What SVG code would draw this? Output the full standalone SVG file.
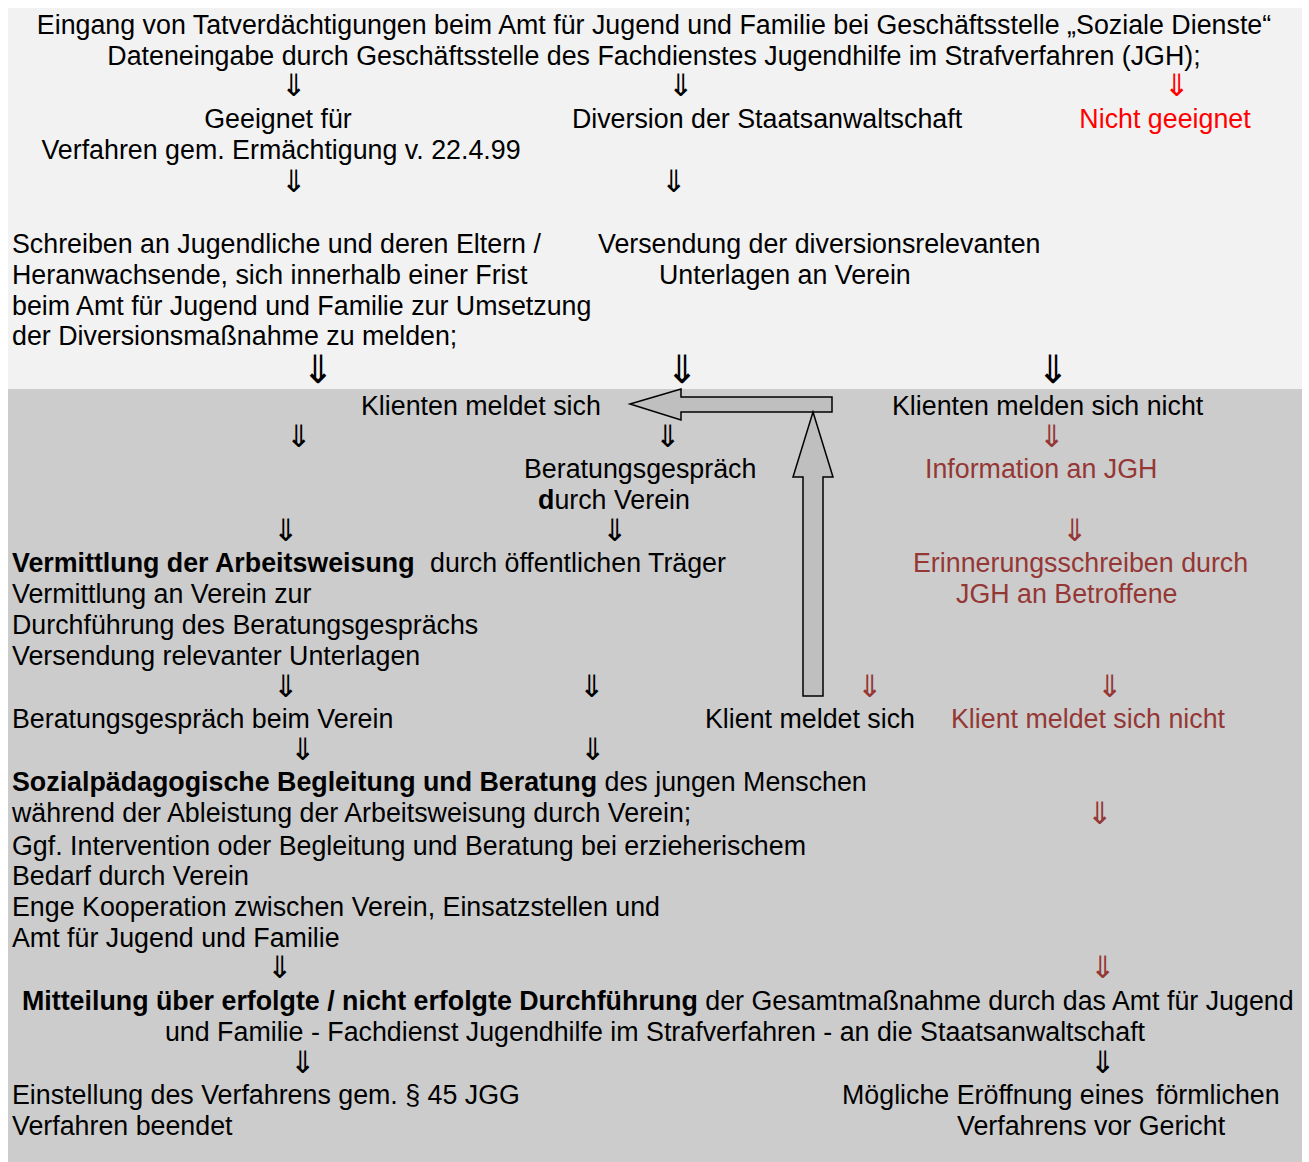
<svg xmlns="http://www.w3.org/2000/svg" width="1309" height="1162" viewBox="0 0 1309 1162">
<style>
text{font-family:"Liberation Sans",Arial,"DejaVu Sans",sans-serif;font-size:26.8px;fill:#000}
.b{font-weight:bold}
.r{fill:#ff0000}
.dr{fill:#953735}
.ar{font-family:"DejaVu Sans","Liberation Sans",sans-serif;font-size:31px;text-anchor:middle}
.big{font-size:39px}
.c{text-anchor:middle}
.blk{fill:#bfbfbf;stroke:#000;stroke-width:1.5;stroke-linejoin:miter}
</style>
<rect x="0" y="0" width="1309" height="1162" fill="#ffffff"/>
<rect x="8" y="8" width="1294" height="381" fill="#f2f2f2"/>
<rect x="8" y="389" width="1294" height="773" fill="#cccccc"/>

<g id="connectors">
<text class="ar" x="294" y="96">⇓</text>
<text class="ar" x="681" y="96">⇓</text>
<text class="ar r" x="1177" y="96">⇓</text>
<text class="ar" x="294" y="192">⇓</text>
<text class="ar" x="674" y="192">⇓</text>
<text class="ar big" x="318" y="383">⇓</text>
<text class="ar big" x="682" y="383">⇓</text>
<text class="ar big" x="1053" y="383">⇓</text>
<text class="ar" x="299" y="447">⇓</text>
<text class="ar" x="668" y="447">⇓</text>
<text class="ar dr" x="1052" y="447">⇓</text>
<text class="ar" x="286" y="541">⇓</text>
<text class="ar" x="615" y="541">⇓</text>
<text class="ar dr" x="1075" y="541">⇓</text>
<text class="ar" x="286" y="697">⇓</text>
<text class="ar" x="592" y="697">⇓</text>
<text class="ar dr" x="870" y="697">⇓</text>
<text class="ar dr" x="1110" y="697">⇓</text>
<text class="ar" x="303" y="760">⇓</text>
<text class="ar" x="593" y="760">⇓</text>
<text class="ar dr" x="1100" y="824">⇓</text>
<text class="ar" x="280" y="978">⇓</text>
<text class="ar dr" x="1103" y="978">⇓</text>
<text class="ar" x="303" y="1073">⇓</text>
<text class="ar" x="1103" y="1073">⇓</text>
<path id="arrow-left" class="blk" d="M630,404 L681,389 L681,397 L832,397 L832,412 L681,412 L681,420 Z"/>
<path id="arrow-up" class="blk" d="M813,412 L833,477 L823,477 L823,696 L803,696 L803,477 L793,477 Z"/>
</g>

<g id="n-eingang">
<text class="c" x="654" y="34">Eingang von Tatverdächtigungen beim Amt für Jugend und Familie bei Geschäftsstelle „Soziale Dienste“</text>
<text class="c" x="654" y="65">Dateneingabe durch Geschäftsstelle des Fachdienstes Jugendhilfe im Strafverfahren (JGH);</text>
</g>
<g id="n-geeignet">
<text class="c" x="278" y="128">Geeignet für</text>
<text class="c" x="281" y="159">Verfahren gem. Ermächtigung v. 22.4.99</text>
</g>
<g id="n-diversion">
<text class="c" x="767" y="128">Diversion der Staatsanwaltschaft</text>
</g>
<g id="n-nicht-geeignet">
<text class="c r" x="1165" y="128">Nicht geeignet</text>
</g>
<g id="n-schreiben">
<text x="12" y="253">Schreiben an Jugendliche und deren Eltern /</text>
<text x="12" y="284">Heranwachsende, sich innerhalb einer Frist</text>
<text x="12" y="315">beim Amt für Jugend und Familie zur Umsetzung</text>
<text x="12" y="345">der Diversionsmaßnahme zu melden;</text>
</g>
<g id="n-versendung">
<text x="598" y="253">Versendung der diversionsrelevanten</text>
<text x="659" y="284">Unterlagen an Verein</text>
</g>
<g id="n-klienten-meldet">
<text x="361" y="415">Klienten meldet sich</text>
</g>
<g id="n-klienten-nicht">
<text x="892" y="415">Klienten melden sich nicht</text>
</g>
<g id="n-beratung-verein">
<text x="524" y="478">Beratungsgespräch</text>
<text x="538" y="509"><tspan class="b">d</tspan>urch Verein</text>
</g>
<g id="n-info-jgh">
<text class="dr" x="925" y="478">Information an JGH</text>
</g>
<g id="n-vermittlung">
<text x="12" y="572"><tspan class="b">Vermittlung der Arbeitsweisung</tspan><tspan x="430">durch öffentlichen Träger</tspan></text>
<text x="12" y="603">Vermittlung an Verein zur</text>
<text x="12" y="634">Durchführung des Beratungsgesprächs</text>
<text x="12" y="665">Versendung relevanter Unterlagen</text>
</g>
<g id="n-erinnerung">
<text class="dr" x="913" y="572">Erinnerungsschreiben durch</text>
<text class="dr" x="956" y="603">JGH an Betroffene</text>
</g>
<g id="n-beratung-beim">
<text x="12" y="728">Beratungsgespräch beim Verein</text>
</g>
<g id="n-klient-meldet">
<text x="705" y="728">Klient meldet sich</text>
</g>
<g id="n-klient-nicht">
<text class="dr" x="951" y="728">Klient meldet sich nicht</text>
</g>
<g id="n-sozial">
<text x="12" y="791"><tspan class="b">Sozialpädagogische Begleitung und Beratung</tspan> des jungen Menschen</text>
<text x="12" y="822">während der Ableistung der Arbeitsweisung durch Verein;</text>
<text x="12" y="855">Ggf. Intervention oder Begleitung und Beratung bei erzieherischem</text>
<text x="12" y="885">Bedarf durch Verein</text>
<text x="12" y="916">Enge Kooperation zwischen Verein, Einsatzstellen und</text>
<text x="12" y="947">Amt für Jugend und Familie</text>
</g>
<g id="n-mitteilung">
<text x="22" y="1010"><tspan class="b">Mitteilung über erfolgte / nicht erfolgte Durchführung</tspan> der Gesamtmaßnahme durch das Amt für Jugend</text>
<text class="c" x="655" y="1041">und Familie - Fachdienst Jugendhilfe im Strafverfahren - an die Staatsanwaltschaft</text>
</g>
<g id="n-einstellung">
<text x="12" y="1104">Einstellung des Verfahrens gem. § 45 JGG</text>
<text x="12" y="1135">Verfahren beendet</text>
</g>
<g id="n-eroeffnung">
<text x="842" y="1104">Mögliche Eröffnung eines<tspan x="1156">förmlichen</tspan></text>
<text x="957" y="1135">Verfahrens vor Gericht</text>
</g>
</svg>
